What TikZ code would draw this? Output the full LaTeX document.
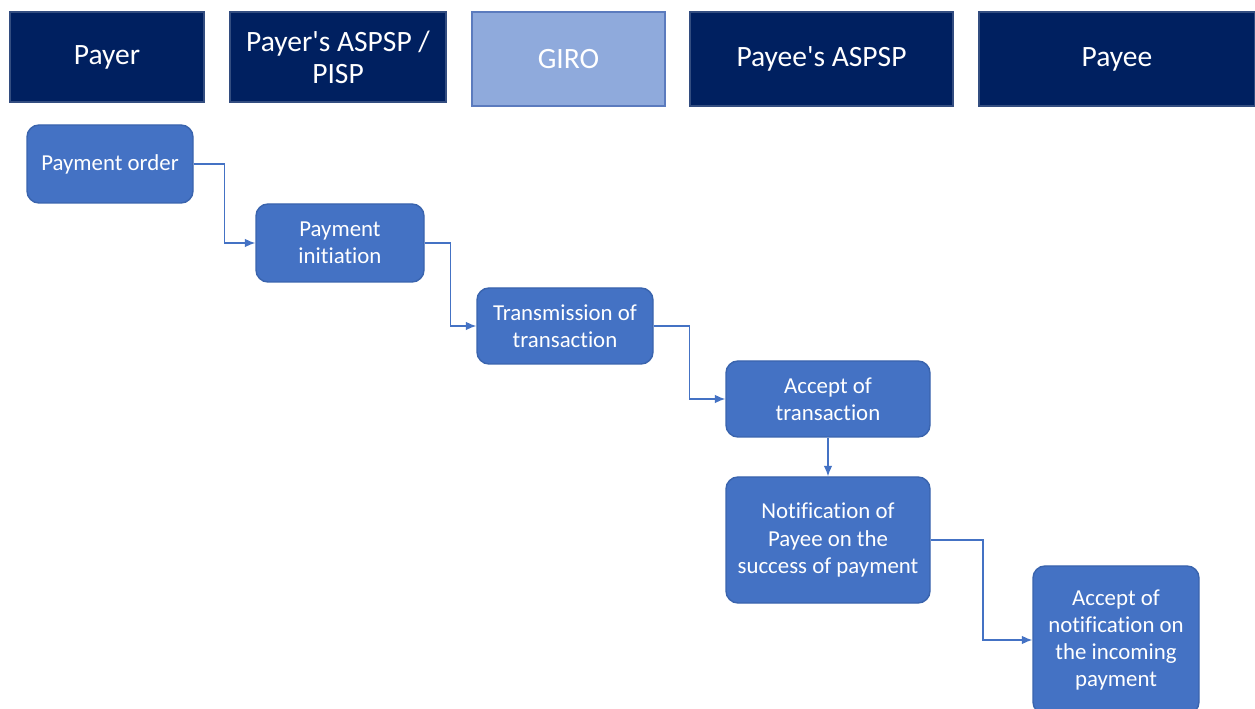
\documentclass[tikz,border=0pt]{standalone}
\usepackage{fontspec}
\setmainfont{Carlito}[Ligatures={NoCommon}]
\usetikzlibrary{arrows.meta}
\definecolor{navy}{HTML}{002060}
\definecolor{stepblue}{HTML}{4472C4}
\definecolor{stepedge}{HTML}{3A64AE}
\definecolor{giroblue}{HTML}{8FAADC}
\definecolor{giroedge}{HTML}{5B7BBE}
\def\pxu{0.02cm}
\newcommand\apos{\textquotesingle}
\tikzset{
  lane/.style={fill=navy, draw=navy!80!white, line width=0.6pt, text=white,
    align=center, inner sep=0pt, font=\fontsize{16.8}{18.2}\selectfont},
  girolane/.style={lane, fill=giroblue, draw=giroedge},
  stepbox/.style={fill=stepblue, draw=stepedge, line width=0.8pt, rounded corners=0.24cm,
    text=white, align=center, inner sep=0pt, font=\fontsize{13}{15.4}\selectfont},
  flow/.style={draw=stepblue, line width=0.9pt, -{Latex[length=6pt,width=5pt]}}
}
\begin{document}
\begin{tikzpicture}[x=0.02cm, y=-0.02cm]
\useasboundingbox (0,0) rectangle (1255,709);
\fill[white] (0,0) rectangle (1255,709);

% swim-lane headers
\node[lane, minimum width=194*\pxu, minimum height=90*\pxu] (payer) at (107,57) {Payer};
\node[lane, minimum width=216*\pxu, minimum height=90*\pxu] (payerbank) at (338,57) {Payer\apos s ASPSP /\\PISP};
\node[girolane, minimum width=193*\pxu, minimum height=94*\pxu] (giro) at (568.5,59) {GIRO};
\node[lane, minimum width=263*\pxu, minimum height=94*\pxu] (payeebank) at (821.5,59) {Payee\apos s ASPSP};
\node[lane, minimum width=276*\pxu, minimum height=94*\pxu] (payee) at (1117,59) {Payee};

% process steps
\node[stepbox, minimum width=166*\pxu, minimum height=78*\pxu] (order) at (110,164) {Payment order};
\node[stepbox, minimum width=168*\pxu, minimum height=78*\pxu] (init) at (340,243) {Payment\\initiation};
\node[stepbox, minimum width=176*\pxu, minimum height=76*\pxu] (trans) at (565,326) {Transmission of\\transaction};
\node[stepbox, minimum width=204*\pxu, minimum height=76*\pxu] (accept) at (828,399) {Accept of\\transaction};
\node[stepbox, minimum width=204*\pxu, minimum height=126*\pxu] (notif) at (828,540) {Notification of\\Payee on the\\success of payment};
\node[stepbox, minimum width=166*\pxu, minimum height=148*\pxu] (incoming) at (1116,640) {Accept of\\notification on\\the incoming\\payment};

% connectors
\draw[flow] (order.east) -- ++(31,0) |- (init.west);
\draw[flow] (init.east) -- ++(26,0) |- (trans.west);
\draw[flow] (trans.east) -- ++(36,0) |- (accept.west);
\draw[flow] (accept.south) -- (notif.north);
\draw[flow] (notif.east) -- ++(52,0) |- (incoming.west);
\end{tikzpicture}
\end{document}
